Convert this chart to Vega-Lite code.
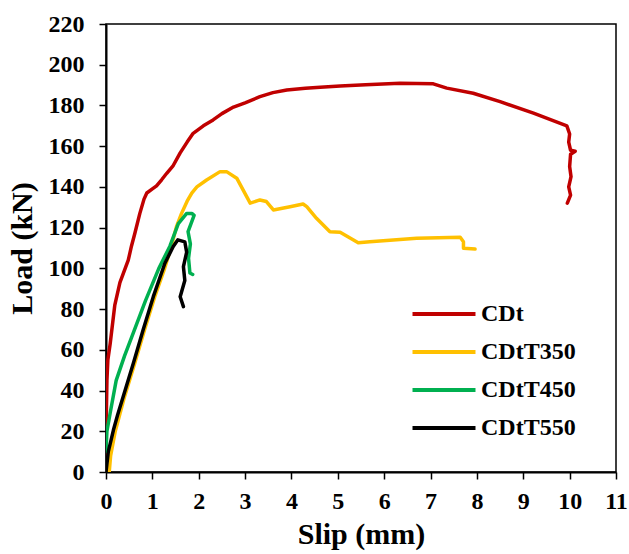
{
  "$schema": "https://vega.github.io/schema/vega-lite/v6.json",
  "width": 510,
  "height": 448,
  "autosize": {"type": "none"},
  "padding": {"left": 106, "top": 24, "right": 13, "bottom": 82},
  "background": "white",
  "config": {
    "font": "Liberation Serif",
    "view": {"stroke": "#000000", "strokeWidth": 1.5},
    "style": {
      "guide-label": {"font": "Liberation Serif", "fontWeight": "bold", "fill": "#000000"},
      "guide-title": {"font": "Liberation Serif", "fontWeight": "bold", "fill": "#000000"}
    },
    "axis": {
      "grid": false,
      "domainColor": "#000000",
      "domainWidth": 2,
      "tickColor": "#000000",
      "tickWidth": 1.5,
      "tickSize": 7
    }
  },
  "data": {
    "values": [
      {"s":"CDt","i":1,"x":0,"y":0},
      {"s":"CDt","i":2,"x":0.005,"y":25},
      {"s":"CDt","i":3,"x":0.02,"y":45},
      {"s":"CDt","i":4,"x":0.04,"y":55},
      {"s":"CDt","i":5,"x":0.09,"y":63},
      {"s":"CDt","i":6,"x":0.19,"y":82},
      {"s":"CDt","i":7,"x":0.3,"y":93},
      {"s":"CDt","i":8,"x":0.48,"y":104},
      {"s":"CDt","i":9,"x":0.55,"y":111},
      {"s":"CDt","i":10,"x":0.62,"y":117},
      {"s":"CDt","i":11,"x":0.73,"y":127},
      {"s":"CDt","i":12,"x":0.82,"y":134},
      {"s":"CDt","i":13,"x":0.88,"y":137},
      {"s":"CDt","i":14,"x":1.0,"y":139},
      {"s":"CDt","i":15,"x":1.09,"y":140.5},
      {"s":"CDt","i":16,"x":1.2,"y":143.5},
      {"s":"CDt","i":17,"x":1.31,"y":146.7},
      {"s":"CDt","i":18,"x":1.45,"y":150.5},
      {"s":"CDt","i":19,"x":1.6,"y":156.7},
      {"s":"CDt","i":20,"x":1.75,"y":162},
      {"s":"CDt","i":21,"x":1.88,"y":166.3},
      {"s":"CDt","i":22,"x":2.1,"y":170},
      {"s":"CDt","i":23,"x":2.31,"y":172.9},
      {"s":"CDt","i":24,"x":2.5,"y":176},
      {"s":"CDt","i":25,"x":2.75,"y":179.2},
      {"s":"CDt","i":26,"x":3.0,"y":181.3},
      {"s":"CDt","i":27,"x":3.32,"y":184.3},
      {"s":"CDt","i":28,"x":3.6,"y":186.3},
      {"s":"CDt","i":29,"x":3.9,"y":187.6},
      {"s":"CDt","i":30,"x":4.3,"y":188.4},
      {"s":"CDt","i":31,"x":4.62,"y":188.9},
      {"s":"CDt","i":32,"x":5.05,"y":189.6},
      {"s":"CDt","i":33,"x":5.6,"y":190.2},
      {"s":"CDt","i":34,"x":6.34,"y":190.9},
      {"s":"CDt","i":35,"x":7.06,"y":190.6},
      {"s":"CDt","i":36,"x":7.35,"y":188.5},
      {"s":"CDt","i":37,"x":7.92,"y":186},
      {"s":"CDt","i":38,"x":8.5,"y":181.9},
      {"s":"CDt","i":39,"x":9.22,"y":176.2},
      {"s":"CDt","i":40,"x":9.94,"y":170},
      {"s":"CDt","i":41,"x":10.0,"y":166},
      {"s":"CDt","i":42,"x":9.98,"y":162},
      {"s":"CDt","i":43,"x":10.02,"y":158},
      {"s":"CDt","i":44,"x":10.12,"y":157.5},
      {"s":"CDt","i":45,"x":10.02,"y":156},
      {"s":"CDt","i":46,"x":10.0,"y":150},
      {"s":"CDt","i":47,"x":10.03,"y":145},
      {"s":"CDt","i":48,"x":9.98,"y":140},
      {"s":"CDt","i":49,"x":10.02,"y":136},
      {"s":"CDt","i":50,"x":9.95,"y":132},
      {"s":"CDtT350","i":1,"x":0.07,"y":0},
      {"s":"CDtT350","i":2,"x":0.1,"y":8},
      {"s":"CDtT350","i":3,"x":0.2,"y":20},
      {"s":"CDtT350","i":4,"x":0.4,"y":37},
      {"s":"CDtT350","i":5,"x":0.62,"y":53.4},
      {"s":"CDtT350","i":6,"x":0.83,"y":69.7},
      {"s":"CDtT350","i":7,"x":1.05,"y":86},
      {"s":"CDtT350","i":8,"x":1.25,"y":99},
      {"s":"CDtT350","i":9,"x":1.4,"y":110},
      {"s":"CDtT350","i":10,"x":1.52,"y":120.5},
      {"s":"CDtT350","i":11,"x":1.63,"y":127},
      {"s":"CDtT350","i":12,"x":1.75,"y":133},
      {"s":"CDtT350","i":13,"x":1.85,"y":137},
      {"s":"CDtT350","i":14,"x":1.96,"y":140},
      {"s":"CDtT350","i":15,"x":2.17,"y":143.4},
      {"s":"CDtT350","i":16,"x":2.46,"y":147.5},
      {"s":"CDtT350","i":17,"x":2.6,"y":147.5},
      {"s":"CDtT350","i":18,"x":2.82,"y":144.3},
      {"s":"CDtT350","i":19,"x":3.11,"y":132},
      {"s":"CDtT350","i":20,"x":3.32,"y":133.6},
      {"s":"CDtT350","i":21,"x":3.46,"y":132.8},
      {"s":"CDtT350","i":22,"x":3.61,"y":128.7},
      {"s":"CDtT350","i":23,"x":3.97,"y":130.3},
      {"s":"CDtT350","i":24,"x":4.25,"y":131.6},
      {"s":"CDtT350","i":25,"x":4.33,"y":130.3},
      {"s":"CDtT350","i":26,"x":4.54,"y":124.6},
      {"s":"CDtT350","i":27,"x":4.83,"y":118},
      {"s":"CDtT350","i":28,"x":5.05,"y":117.7},
      {"s":"CDtT350","i":29,"x":5.44,"y":112.6},
      {"s":"CDtT350","i":30,"x":5.69,"y":113.1},
      {"s":"CDtT350","i":31,"x":6.7,"y":114.8},
      {"s":"CDtT350","i":32,"x":7.64,"y":115.3},
      {"s":"CDtT350","i":33,"x":7.71,"y":113.1},
      {"s":"CDtT350","i":34,"x":7.71,"y":109.9},
      {"s":"CDtT350","i":35,"x":7.96,"y":109.5},
      {"s":"CDtT450","i":1,"x":0.0,"y":10},
      {"s":"CDtT450","i":2,"x":0.02,"y":20},
      {"s":"CDtT450","i":3,"x":0.09,"y":29},
      {"s":"CDtT450","i":4,"x":0.22,"y":45},
      {"s":"CDtT450","i":5,"x":0.4,"y":57},
      {"s":"CDtT450","i":6,"x":0.55,"y":66},
      {"s":"CDtT450","i":7,"x":0.85,"y":84},
      {"s":"CDtT450","i":8,"x":1.14,"y":100},
      {"s":"CDtT450","i":9,"x":1.38,"y":111},
      {"s":"CDtT450","i":10,"x":1.56,"y":122},
      {"s":"CDtT450","i":11,"x":1.74,"y":127},
      {"s":"CDtT450","i":12,"x":1.85,"y":127},
      {"s":"CDtT450","i":13,"x":1.9,"y":126},
      {"s":"CDtT450","i":14,"x":1.77,"y":118},
      {"s":"CDtT450","i":15,"x":1.82,"y":112},
      {"s":"CDtT450","i":16,"x":1.78,"y":105},
      {"s":"CDtT450","i":17,"x":1.81,"y":97.7},
      {"s":"CDtT450","i":18,"x":1.87,"y":97},
      {"s":"CDtT550","i":1,"x":0,"y":0},
      {"s":"CDtT550","i":2,"x":0.05,"y":10},
      {"s":"CDtT550","i":3,"x":0.16,"y":20.6},
      {"s":"CDtT550","i":4,"x":0.25,"y":28},
      {"s":"CDtT550","i":5,"x":0.37,"y":37},
      {"s":"CDtT550","i":6,"x":0.59,"y":53.4},
      {"s":"CDtT550","i":7,"x":0.8,"y":69.7},
      {"s":"CDtT550","i":8,"x":1.02,"y":86.1},
      {"s":"CDtT550","i":9,"x":1.27,"y":102.5},
      {"s":"CDtT550","i":10,"x":1.45,"y":110.7},
      {"s":"CDtT550","i":11,"x":1.55,"y":114},
      {"s":"CDtT550","i":12,"x":1.7,"y":113},
      {"s":"CDtT550","i":13,"x":1.74,"y":108},
      {"s":"CDtT550","i":14,"x":1.67,"y":100.8},
      {"s":"CDtT550","i":15,"x":1.7,"y":94},
      {"s":"CDtT550","i":16,"x":1.6,"y":86.1},
      {"s":"CDtT550","i":17,"x":1.67,"y":81.2}
    ]
  },
  "mark": {"type": "line", "strokeWidth": 3.5, "strokeJoin": "round", "strokeCap": "round", "clip": true},
  "encoding": {
    "x": {
      "field": "x", "type": "quantitative",
      "scale": {"domain": [0, 11], "nice": false, "zero": true},
      "axis": {"values": [0,1,2,3,4,5,6,7,8,9,10,11], "title": "Slip (mm)", "labelFont": "Liberation Serif", "labelFontWeight": "bold", "labelFontSize": 24, "labelColor": "#000000", "titleFont": "Liberation Serif", "titleFontWeight": "bold", "titleFontSize": 30, "titleColor": "#000000", "labelPadding": 10, "titlePadding": 6, "labelFlush": false}
    },
    "y": {
      "field": "y", "type": "quantitative",
      "scale": {"domain": [0, 220], "nice": false},
      "axis": {"values": [0,20,40,60,80,100,120,140,160,180,200,220], "title": "Load (kN)", "labelFont": "Liberation Serif", "labelFontWeight": "bold", "labelFontSize": 24, "labelColor": "#000000", "titleFont": "Liberation Serif", "titleFontWeight": "bold", "titleFontSize": 30, "titleColor": "#000000", "labelPadding": 15, "titlePadding": 11, "labelFlush": false}
    },
    "color": {
      "field": "s", "type": "nominal",
      "scale": {"domain": ["CDt", "CDtT350", "CDtT450", "CDtT550"], "range": ["#C00000", "#FFC000", "#00B050", "#000000"]},
      "legend": {
        "title": null,
        "orient": "none",
        "legendX": 320,
        "legendY": 272,
        "padding": 0,
        "symbolType": "M-2,0H2",
        "symbolSize": 992,
        "symbolStrokeWidth": 4,
        "symbolFillColor": "transparent",
        "labelFont": "Liberation Serif",
        "labelFontWeight": "bold",
        "labelFontSize": 24,
        "labelColor": "#000000",
        "labelOffset": 19,
        "rowPadding": 8
      }
    },
    "order": {"field": "i", "type": "quantitative"}
  }
}
